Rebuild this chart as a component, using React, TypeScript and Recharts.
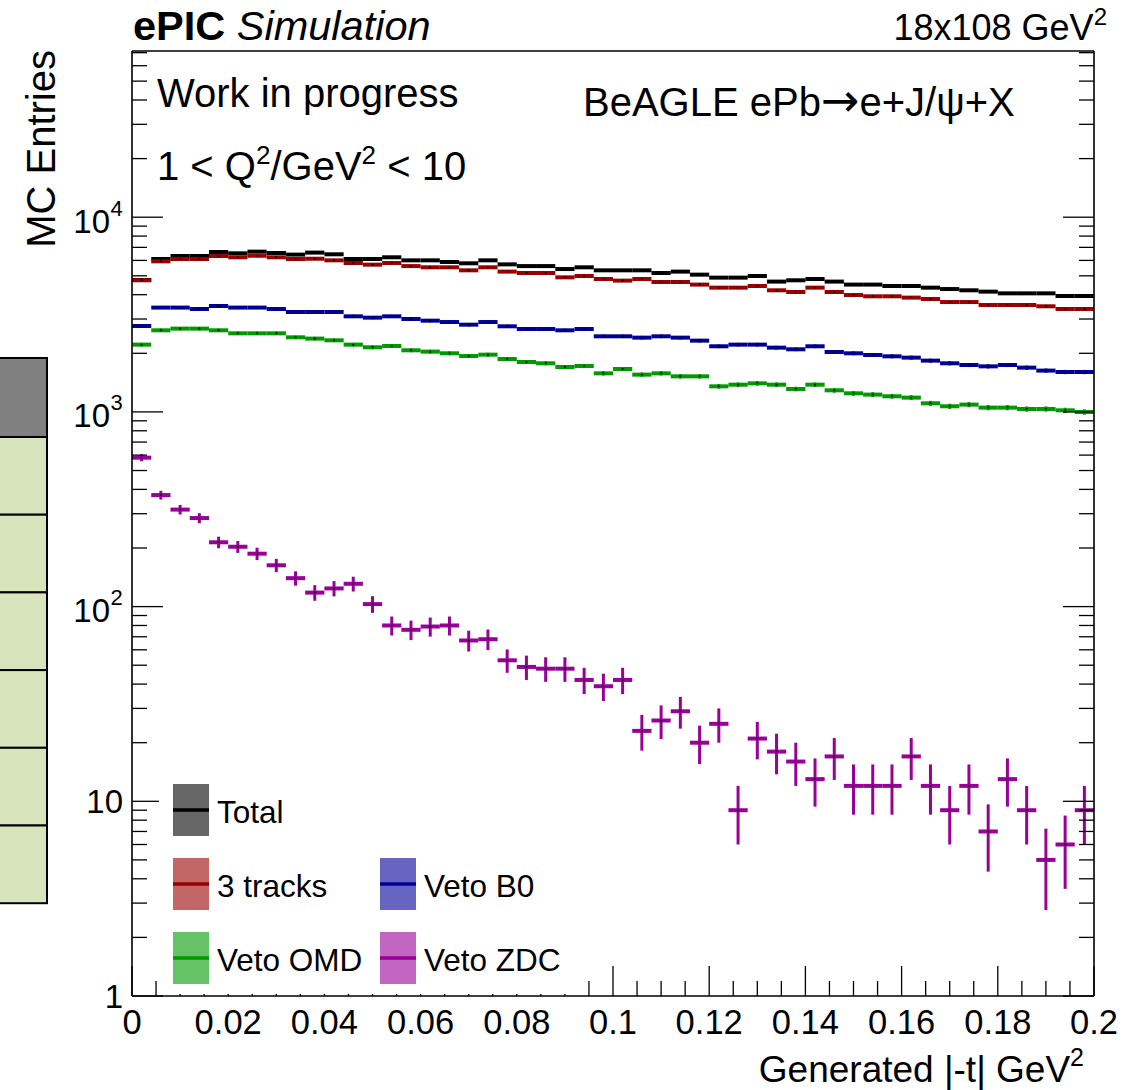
import { ComposedChart, Scatter, ErrorBar, XAxis, YAxis } from "recharts";

const FONT = "'Liberation Sans', Arial, Helvetica, sans-serif";

// bin centres, |t| in GeV^2 (bin width 0.004)
const binCenters = [
  0.002, 0.006, 0.01, 0.014, 0.018, 0.022, 0.026, 0.03, 0.034, 0.038,
  0.042, 0.046, 0.05, 0.054, 0.058, 0.062, 0.066, 0.07, 0.074, 0.078,
  0.082, 0.086, 0.09, 0.094, 0.098, 0.102, 0.106, 0.11, 0.114, 0.118,
  0.122, 0.126, 0.13, 0.134, 0.138, 0.142, 0.146, 0.15, 0.154, 0.158,
  0.162, 0.166, 0.17, 0.174, 0.178, 0.182, 0.186, 0.19, 0.194, 0.198,
];
const binHalfWidth = 0.002;

const total = [
  4760, 6100, 6320, 6320, 6625, 6524, 6655, 6550, 6425, 6580,
  6450, 6100, 6100, 6225, 6005, 6005, 5890, 5797, 6005, 5725,
  5610, 5610, 5417, 5530, 5336, 5336, 5336, 5170, 5255, 5070,
  4894, 4894, 4988, 4670, 4743, 4815, 4670, 4507, 4507, 4434,
  4434, 4347, 4276, 4213, 4147, 4064, 4064, 4064, 3938, 3938,
];
const threeTracks = [
  4743, 5935, 6100, 6100, 6320, 6225, 6340, 6225, 6100, 6120,
  6005, 5820, 5705, 5820, 5610, 5530, 5530, 5336, 5530, 5255,
  5170, 5170, 4910, 4988, 4815, 4725, 4815, 4648, 4648, 4507,
  4347, 4347, 4434, 4213, 4130, 4347, 4130, 3984, 3924, 3924,
  3864, 3802, 3667, 3667, 3540, 3540, 3540, 3487, 3377, 3377,
];
const vetoB0 = [
  2762, 3434, 3434, 3378, 3499, 3434, 3434, 3378, 3260, 3260,
  3260, 3097, 3049, 3097, 3000, 2942, 2895, 2806, 2895, 2752,
  2666, 2666, 2625, 2666, 2445, 2445, 2407, 2445, 2407, 2323,
  2173, 2216, 2216, 2138, 2097, 2173, 2031, 2000, 1960, 1930,
  1900, 1834, 1777, 1741, 1714, 1741, 1688, 1630, 1603, 1603,
];
const vetoOMD = [
  2216, 2625, 2678, 2678, 2625, 2533, 2533, 2533, 2416, 2380,
  2332, 2216, 2147, 2181, 2072, 2040, 2000, 1936, 1968, 1869,
  1804, 1777, 1701, 1721, 1578, 1661, 1554, 1578, 1523, 1523,
  1353, 1380, 1402, 1380, 1311, 1380, 1291, 1246, 1227, 1203,
  1184, 1107, 1069, 1090, 1052, 1052, 1035, 1035, 1019, 999,
];
const vetoZDC = [
  582, 374, 315, 285, 214, 203, 187, 163, 140, 118,
  124, 131, 103, 80, 76, 79, 80, 67, 68, 53,
  49, 48, 48, 42, 39, 42, 23, 26, 29, 20,
  25, 9, 21, 18, 16, 13, 17, 12, 12, 12,
  17, 12, 9, 12, 7, 13, 9, 5, 6, 9,
];

const series = [
  { key: "total", name: "Total", values: total, color: "#000000" },
  { key: "tracks", name: "3 tracks", values: threeTracks, color: "#990000" },
  { key: "b0", name: "Veto B0", values: vetoB0, color: "#000099" },
  { key: "omd", name: "Veto OMD", values: vetoOMD, color: "#009900" },
  { key: "zdc", name: "Veto ZDC", values: vetoZDC, color: "#990099" },
];

// legend slots (column, row) in the same order as series
const legendSlots = [
  [0, 0],
  [0, 1],
  [1, 1],
  [0, 2],
  [1, 2],
];

const xTicks = [
  0, 0.005, 0.01, 0.015, 0.02, 0.025, 0.03, 0.035, 0.04, 0.045, 0.05,
  0.055, 0.06, 0.065, 0.07, 0.075, 0.08, 0.085, 0.09, 0.095, 0.1, 0.105,
  0.11, 0.115, 0.12, 0.125, 0.13, 0.135, 0.14, 0.145, 0.15, 0.155, 0.16,
  0.165, 0.17, 0.175, 0.18, 0.185, 0.19, 0.195, 0.2,
];
const xMajor = [0, 0.02, 0.04, 0.06, 0.08, 0.1, 0.12, 0.14, 0.16, 0.18, 0.2];

const yTicks = [
  1, 2, 3, 4, 5, 6, 7, 8, 9,
  10, 20, 30, 40, 50, 60, 70, 80, 90,
  100, 200, 300, 400, 500, 600, 700, 800, 900,
  1000, 2000, 3000, 4000, 5000, 6000, 7000, 8000, 9000,
  10000, 20000, 30000, 40000, 50000, 60000, 70000,
];
const yLabels: Record<number, { base: string; exp?: string }> = {
  1: { base: "1" },
  10: { base: "10" },
  100: { base: "10", exp: "2" },
  1000: { base: "10", exp: "3" },
  10000: { base: "10", exp: "4" },
};

const rowsFor = (values: number[]) =>
  binCenters.map((x, i) => ({
    x,
    y: values[i],
    ex: binHalfWidth,
    ey: Math.sqrt(values[i]),
  }));

const BottomTick = (props: any) => {
  const { x, y, payload } = props;
  const major = xMajor.includes(payload.value);
  return (
    <g>
      <line x1={x} y1={y} x2={x} y2={y - (major ? 30 : 15)} stroke="#000" strokeWidth={1.3} />
      {major && (
        <text x={x} y={y + 37.5} textAnchor="middle" fontSize={34.5} fontFamily={FONT} fill="#000">
          {String(payload.value)}
        </text>
      )}
    </g>
  );
};

const TopTick = (props: any) => {
  const { x, y, payload } = props;
  const major = xMajor.includes(payload.value);
  return <line x1={x} y1={y} x2={x} y2={y + (major ? 30 : 15)} stroke="#000" strokeWidth={1.3} />;
};

const LeftTick = (props: any) => {
  const { x, y, payload } = props;
  const lab = yLabels[payload.value];
  return (
    <g>
      <line x1={x} y1={y} x2={x + (lab ? 31 : 15)} y2={y} stroke="#000" strokeWidth={1.3} />
      {lab && lab.exp && (
        <text fontFamily={FONT} fill="#000">
          <tspan x={x - 22} y={y + 15.5} fontSize={33} textAnchor="end">{lab.base}</tspan>
          <tspan x={x - 21.5} y={y - 1.5} fontSize={22}>{lab.exp}</tspan>
        </text>
      )}
      {lab && !lab.exp && (
        <text x={x - 9} y={y + 11.5} fontSize={33} textAnchor="end" fontFamily={FONT} fill="#000">
          {lab.base}
        </text>
      )}
    </g>
  );
};

const RightTick = (props: any) => {
  const { x, y, payload } = props;
  const major = !!yLabels[payload.value];
  return <line x1={x} y1={y} x2={x - (major ? 31 : 15)} y2={y} stroke="#000" strokeWidth={1.3} />;
};

const CenterDot = (props: any) => <circle cx={props.cx} cy={props.cy} r={1} fill="#000" />;

const axisLine = { stroke: "#000", strokeWidth: 1.6 };

export default function App() {
  return (
    <div style={{ position: "absolute", left: 0, top: 0, width: 1124, height: 1090, background: "#fff" }}>
      <ComposedChart width={1124} height={1090} margin={{ top: 0, right: 0, bottom: 0, left: 0 }}>
        <XAxis
          type="number"
          dataKey="x"
          domain={[0, 0.2]}
          allowDataOverflow
          ticks={xTicks}
          interval={0}
          tickSize={0}
          tickMargin={0}
          tickLine={false}
          tick={BottomTick}
          axisLine={axisLine}
          height={94}
        />
        <XAxis
          xAxisId="top"
          orientation="top"
          type="number"
          domain={[0, 0.2]}
          allowDataOverflow
          ticks={xTicks}
          interval={0}
          tickSize={0}
          tickMargin={0}
          tickLine={false}
          tick={TopTick}
          axisLine={axisLine}
          height={51}
        />
        <YAxis
          type="number"
          dataKey="y"
          scale="log"
          domain={[1, 71400]}
          allowDataOverflow
          ticks={yTicks}
          interval={0}
          tickSize={0}
          tickMargin={0}
          tickLine={false}
          tick={LeftTick}
          axisLine={axisLine}
          width={132}
        />
        <YAxis
          yAxisId="right"
          orientation="right"
          type="number"
          scale="log"
          domain={[1, 71400]}
          allowDataOverflow
          ticks={yTicks}
          interval={0}
          tickSize={0}
          tickMargin={0}
          tickLine={false}
          tick={RightTick}
          axisLine={axisLine}
          width={30}
        />
        {series.map((s) => (
          <Scatter
            key={s.key}
            name={s.name}
            data={rowsFor(s.values)}
            dataKey="y"
            shape={CenterDot}
            isAnimationActive={false}
          >
            <ErrorBar dataKey="ex" direction="x" width={0} stroke={s.color} strokeWidth={4} isAnimationActive={false} />
            <ErrorBar dataKey="ey" direction="y" width={0} stroke={s.color} strokeWidth={3} isAnimationActive={false} />
          </Scatter>
        ))}
      </ComposedChart>

      <svg
        width={1124}
        height={1090}
        style={{ position: "absolute", left: 0, top: 0, pointerEvents: "none" }}
        fontFamily={FONT}
      >
        {/* cropped table on the left edge */}
        <rect x={-3} y={358} width={50} height={79} fill="#808080" stroke="#000" strokeWidth={2} />
        {[0, 1, 2, 3, 4, 5].map((i) => (
          <rect key={i} x={-3} y={437 + i * 77.7} width={50} height={77.7} fill="#d8e4bc" stroke="#000" strokeWidth={2} />
        ))}

        <text x={133} y={40} fontSize={41.5} fill="#000">
          <tspan fontWeight="bold">ePIC</tspan>
          <tspan fontStyle="italic"> Simulation</tspan>
        </text>
        <text x={1107} y={40} fontSize={36} textAnchor="end" fill="#000">
          18x108 GeV<tspan fontSize={24} dy={-15}>2</tspan>
        </text>
        <text x={157} y={107} fontSize={40} fill="#000">Work in progress</text>
        <text x={157} y={180} fontSize={40} fill="#000">
          1 &lt; Q<tspan fontSize={26} dy={-16}>2</tspan>
          <tspan dy={16}>/GeV</tspan>
          <tspan fontSize={26} dy={-16}>2</tspan>
          <tspan dy={16}> &lt; 10</tspan>
        </text>
        <text x={583} y={116} fontSize={40} fill="#000">
          BeAGLE ePb<tspan fontFamily="'DejaVu Sans', sans-serif" fontSize={46}>→</tspan>e+J/ψ+X
        </text>
        <text transform="translate(55,50) rotate(-90)" fontSize={40} textAnchor="end" fill="#000">
          MC Entries
        </text>
        <text x={1084} y={1082} fontSize={37} textAnchor="end" fill="#000">
          Generated |-t| GeV<tspan fontSize={25} dy={-16}>2</tspan>
        </text>

        {/* legend */}
        <rect x={159} y={768} width={427} height={226} fill="#fff" />
        {series.map((s, i) => {
          const [col, row] = legendSlots[i];
          const bx = col === 0 ? 173 : 380;
          const cy = 810 + row * 74;
          return (
            <g key={s.key}>
              <rect x={bx} y={cy - 26} width={36} height={52} fill={s.color} fillOpacity={0.6} />
              <line x1={bx} y1={cy} x2={bx + 36} y2={cy} stroke={s.color} strokeWidth={3.5} />
              <text x={bx + 44} y={cy + 13} fontSize={31.5} fill="#000">{s.name}</text>
            </g>
          );
        })}
      </svg>
    </div>
  );
}
